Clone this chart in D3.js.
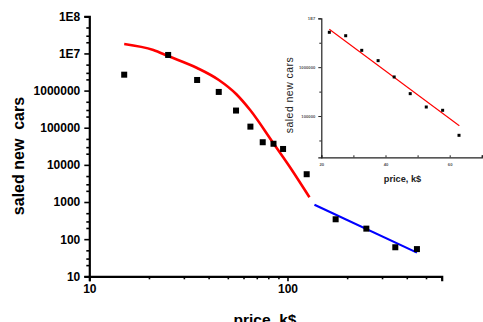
<!DOCTYPE html>
<html><head><meta charset="utf-8">
<script src="https://cdn.jsdelivr.net/npm/d3@7"></script>
<style>
html,body{margin:0;padding:0;background:#fff;}
svg{display:block;font-family:"Liberation Sans",Arial,sans-serif;}
</style></head>
<body>
<svg id="c" width="483" height="322"></svg>
<script>
// ---- main chart data ----
const mainPrice = [15, 25, 35, 45, 55, 65, 75, 85, 95, 125, 175, 250, 350, 450];
const mainSales = [2.68e6, 9.1e6, 1.93e6, 9.2e5, 2.9e5, 1.07e5, 4.07e4, 3.7e4, 2.68e4, 5600, 343, 192, 60.5, 54];
const redFitPrice = [15.0, 21.05, 24.97, 34.99, 45.03, 55.06, 64.8, 84.7, 104.4, 129.1];
const redFitSales = [1.80e7, 1.24e7, 8.54e6, 4.06e6, 1.93e6, 8.1e5, 3.0e5, 3.89e4, 7760, 1343];
const blueFitPrice = [136.8, 450];
const blueFitSales = [849, 43.4];
const yTickValues = [1e8, 1e7, 1e6, 1e5, 1e4, 1e3, 100, 10];
const yTickLabels = ["1E8", "1E7", "1000000", "100000", "10000", "1000", "100", "10"];
const xTickValues = [10, 100];
const xTickLabels = ["10", "100"];
// ---- inset data ----
const insetPrice = [22.5, 27.6, 32.6, 37.7, 42.7, 47.7, 52.7, 57.8, 62.9];
const insetSales = [5.17e6, 4.4e6, 2.21e6, 1.36e6, 6.3e5, 2.87e5, 1.53e5, 1.31e5, 4.03e4];
const insetFitPrice = [22.5, 63.0];
const insetFitSales = [5.96e6, 6.33e4];
const insetYTickValues = [1e7, 1e6, 1e5];
const insetYTickLabels = ["1E7", "1000000", "100000"];
const insetXTickValues = [20, 40, 60];
const insetXTickLabels = ["20", "40", "60"];

const svg = d3.select("#c");

// ---------- MAIN ----------
const x = d3.scaleLog().domain([10, 600]).range([89.3, 441.7]);
const y = d3.scaleLog().domain([10, 1e8]).range([276.3, 16.3]);

const yMinor = [];
for (let e = 1; e < 8; e++) [2, 3, 5].forEach(m => yMinor.push(m * Math.pow(10, e)));
const xMinor = [];
[2,3,4,5,6,7,8,9].forEach(m => xMinor.push(m * 10));
[200,300,400,500,600].forEach(v => xMinor.push(v));

const gyMinor = svg.append("g").attr("transform", "translate(89.3,0)")
  .call(d3.axisLeft(y).tickValues(yMinor).tickSize(3).tickFormat(""));
const gy = svg.append("g").attr("transform", "translate(89.3,0)")
  .call(d3.axisLeft(y).tickValues(yTickValues).tickSize(5).tickPadding(4)
    .tickFormat((d, i) => yTickLabels[i]));
const gxMinor = svg.append("g").attr("transform", "translate(0,276.3)")
  .call(d3.axisBottom(x).tickValues(xMinor).tickSize(3).tickFormat(""));
const gx = svg.append("g").attr("transform", "translate(0,276.3)")
  .call(d3.axisBottom(x).tickValues(xTickValues).tickSize(5).tickPadding(3)
    .tickFormat((d, i) => xTickLabels[i]));
[gy, gx, gyMinor, gxMinor].forEach(g => {
  g.select(".domain").attr("stroke", "#000").attr("stroke-width", 2.2);
  g.selectAll(".tick line").attr("stroke", "#000").attr("stroke-width", 1.6);
  g.selectAll("text").attr("fill", "#000").attr("font-size", 12).attr("font-weight", "bold")
    .attr("font-family", "'Liberation Sans',Arial,sans-serif");
});
gyMinor.select(".domain").remove(); gxMinor.select(".domain").remove();

svg.append("text").attr("transform", "translate(24,156) rotate(-90)")
  .attr("text-anchor", "middle").attr("font-size", 16).attr("font-weight", "bold")
  .style("white-space", "pre").text("saled new  cars");
svg.append("text").attr("x", 265).attr("y", 324.5).attr("text-anchor", "middle")
  .attr("font-size", 15.5).attr("font-weight", "bold").text("price, k$");

svg.append("path").datum(redFitPrice.map((p, i) => [p, redFitSales[i]]))
  .attr("d", d3.line().x(d => x(d[0])).y(d => y(d[1])).curve(d3.curveMonotoneX))
  .attr("fill", "none").attr("stroke", "#ff0000").attr("stroke-width", 2.6);
svg.append("path").datum(blueFitPrice.map((p, i) => [p, blueFitSales[i]]))
  .attr("d", d3.line().x(d => x(d[0])).y(d => y(d[1]))).attr("fill", "none")
  .attr("stroke", "#0000ff").attr("stroke-width", 2.2);

const ms = 6;
svg.append("g").selectAll("rect").data(mainPrice.map((p, i) => [p, mainSales[i]]))
  .join("rect").attr("x", d => x(d[0]) - ms / 2).attr("y", d => y(d[1]) - ms / 2)
  .attr("width", ms).attr("height", ms).attr("fill", "#000");

// ---------- INSET ----------
const ix = d3.scaleLinear().domain([20, 70]).range([321.3, 481.8]);
const iy = d3.scaleLog().domain([14300, 1e7]).range([157.3, 18.3]);
const iyMinor = [3.16e6, 3.16e5, 3.16e4];
const ixMinor = [30, 50, 70];

const giyM = svg.append("g").attr("transform", "translate(321.3,0)")
  .call(d3.axisLeft(iy).tickValues(iyMinor).tickSize(2).tickFormat(""));
const giy = svg.append("g").attr("transform", "translate(321.3,0)")
  .call(d3.axisLeft(iy).tickValues(insetYTickValues).tickSize(3).tickPadding(3)
    .tickFormat((d, i) => insetYTickLabels[i]));
const gixM = svg.append("g").attr("transform", "translate(0,157.3)")
  .call(d3.axisBottom(ix).tickValues(ixMinor).tickSize(-2).tickFormat(""));
const gix = svg.append("g").attr("transform", "translate(0,157.3)")
  .call(d3.axisBottom(ix).tickValues(insetXTickValues).tickSize(-2).tickPadding(6)
    .tickFormat((d, i) => insetXTickLabels[i]));
[giy, gix, giyM, gixM].forEach(g => {
  g.select(".domain").attr("stroke", "#222").attr("stroke-width", 1.2);
  g.selectAll(".tick line").attr("stroke", "#222").attr("stroke-width", 1);
  g.selectAll("text").attr("fill", "#555").attr("font-size", 4.2).attr("font-weight", "bold")
    .attr("font-family", "'Liberation Sans',Arial,sans-serif");
});
giyM.select(".domain").remove(); gixM.select(".domain").remove();

svg.append("text").attr("transform", "translate(293,95) rotate(-90)")
  .attr("text-anchor", "middle").attr("font-size", 10.5).attr("fill", "#222")
  .attr("letter-spacing", 0.45).text("saled new cars");
svg.append("text").attr("x", 402.5).attr("y", 181.8).attr("text-anchor", "middle")
  .attr("font-size", 9.2).attr("font-weight", "bold").attr("fill", "#222").text("price, k$");

svg.append("path").datum(insetFitPrice.map((p, i) => [p, insetFitSales[i]]))
  .attr("d", d3.line().x(d => ix(d[0])).y(d => iy(d[1]))).attr("fill", "none")
  .attr("stroke", "#ff0000").attr("stroke-width", 1.1);
const is = 3;
svg.append("g").selectAll("rect").data(insetPrice.map((p, i) => [p, insetSales[i]]))
  .join("rect").attr("x", d => ix(d[0]) - is / 2).attr("y", d => iy(d[1]) - is / 2)
  .attr("width", is).attr("height", is).attr("fill", "#000");
</script>
</body></html>
